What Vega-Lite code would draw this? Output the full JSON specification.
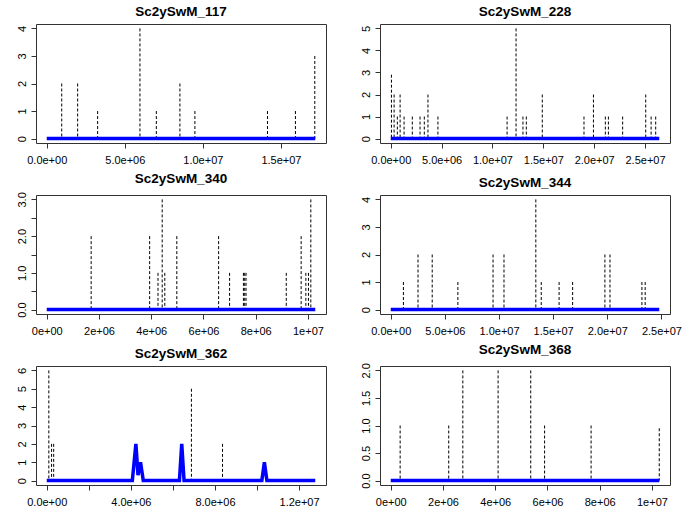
{
  "$schema": "https://vega.github.io/schema/vega-lite/v6.json",
  "padding": {"left": 15, "top": 4, "right": 5, "bottom": 5},
  "columns": 2,
  "spacing": {"row": 52, "column": 54},
  "bounds": "flush",
  "config": {
    "font": "Liberation Sans",
    "view": {"stroke": "#333333", "strokeWidth": 1},
    "axis": {"grid": false, "domain": false, "ticks": true, "tickSize": 5, "tickColor": "#333333", "tickWidth": 1, "labelFont": "Liberation Sans", "labelFontSize": 11, "labelColor": "black", "title": null, "labelOverlap": false, "labelFlush": false},
    "axisX": {"labelPadding": 6},
    "axisY": {"labelAngle": -90, "labelAlign": "center", "labelBaseline": "bottom", "labelPadding": 4},
    "title": {"fontSize": 13.5, "fontWeight": "bold", "font": "Liberation Sans", "offset": 6, "color": "black", "anchor": "middle"}
  },
  "datasets": {
    "k117": [{"x":960000,"y":2},{"x":1980000,"y":2},{"x":3260000,"y":1},{"x":5970000,"y":4},{"x":7020000,"y":1},{"x":8530000,"y":2},{"x":9490000,"y":1},{"x":14140000,"y":1},{"x":15930000,"y":1},{"x":17170000,"y":3}],
    "b117": [{"x":0,"y":0},{"x":17200000,"y":0}],
    "k228": [{"x":70000,"y":2.9},{"x":330000,"y":2},{"x":650000,"y":1},{"x":920000,"y":2},{"x":1310000,"y":1},{"x":2120000,"y":1},{"x":2880000,"y":1},{"x":3300000,"y":1},{"x":3660000,"y":2},{"x":4640000,"y":1},{"x":11440000,"y":1},{"x":12320000,"y":5},{"x":13000000,"y":1},{"x":13330000,"y":1},{"x":14900000,"y":2},{"x":19000000,"y":1},{"x":19930000,"y":2},{"x":21100000,"y":1},{"x":21400000,"y":1},{"x":22800000,"y":1},{"x":25070000,"y":2},{"x":25600000,"y":1},{"x":26050000,"y":1}],
    "b228": [{"x":0,"y":0},{"x":26400000,"y":0}],
    "k340": [{"x":1700000,"y":2},{"x":3940000,"y":2},{"x":4260000,"y":1},{"x":4420000,"y":3},{"x":4520000,"y":1},{"x":4980000,"y":2},{"x":6580000,"y":2},{"x":7000000,"y":1},{"x":7530000,"y":1},{"x":7580000,"y":1},{"x":7630000,"y":1},{"x":9170000,"y":1},{"x":9740000,"y":2},{"x":9920000,"y":1},{"x":10020000,"y":1},{"x":10110000,"y":3}],
    "b340": [{"x":0,"y":0},{"x":10280000,"y":0}],
    "k344": [{"x":1170000,"y":1},{"x":2520000,"y":2},{"x":3830000,"y":2},{"x":6200000,"y":1},{"x":9450000,"y":2},{"x":10460000,"y":2},{"x":13400000,"y":4},{"x":13900000,"y":1},{"x":15550000,"y":1},{"x":16800000,"y":1},{"x":19780000,"y":2},{"x":20250000,"y":2},{"x":23200000,"y":1},{"x":23500000,"y":1}],
    "b344": [{"x":0,"y":0},{"x":24800000,"y":0}],
    "k362": [{"x":100000,"y":6},{"x":230000,"y":2},{"x":330000,"y":2},{"x":6880000,"y":5},{"x":8360000,"y":2}],
    "b362": [{"x":0,"y":0},{"x":4070000,"y":0},{"x":4240000,"y":2},{"x":4340000,"y":0.3},{"x":4460000,"y":1},{"x":4590000,"y":0},{"x":6310000,"y":0},{"x":6420000,"y":2},{"x":6530000,"y":0},{"x":10230000,"y":0},{"x":10350000,"y":1},{"x":10470000,"y":0},{"x":12770000,"y":0}],
    "k368": [{"x":360000,"y":1},{"x":2220000,"y":1},{"x":2760000,"y":2},{"x":4110000,"y":2},{"x":5360000,"y":2},{"x":5890000,"y":1},{"x":7670000,"y":1},{"x":10280000,"y":0.95}],
    "b368": [{"x":0,"y":0},{"x":10280000,"y":0}]
  },
  "concat": [
    {
      "title": "Sc2ySwM_117", "width": 290, "height": 119,
      "encoding": {
        "x": {"field": "x", "type": "quantitative", "scale": {"domain": [-688000, 17888000], "nice": false, "zero": false}, "axis": {"values": [0, 5000000, 10000000, 15000000], "labelExpr": "replace(format(datum.value, '.1e'), 'e+', 'e+0')"}},
        "y": {"field": "y", "type": "quantitative", "scale": {"domain": [-0.16, 4.16], "nice": false, "zero": false}, "axis": {"values": [0, 1, 2, 3, 4]}}
      },
      "layer": [
        {"data": {"name": "k117"}, "mark": {"type": "rule", "color": "black", "strokeWidth": 1, "strokeDash": [3, 2]}, "encoding": {"y2": {"datum": 0}}},
        {"data": {"name": "b117"}, "mark": {"type": "line", "color": "#0000ff", "strokeWidth": 3.5}, "encoding": {}}
      ]
    },
    {
      "title": "Sc2ySwM_228", "width": 290, "height": 119,
      "encoding": {
        "x": {"field": "x", "type": "quantitative", "scale": {"domain": [-1056000, 27456000], "nice": false, "zero": false}, "axis": {"values": [0, 5000000, 10000000, 15000000, 20000000, 25000000], "labelExpr": "replace(format(datum.value, '.1e'), 'e+', 'e+0')"}},
        "y": {"field": "y", "type": "quantitative", "scale": {"domain": [-0.2, 5.2], "nice": false, "zero": false}, "axis": {"values": [0, 1, 2, 3, 4, 5]}}
      },
      "layer": [
        {"data": {"name": "k228"}, "mark": {"type": "rule", "color": "black", "strokeWidth": 1, "strokeDash": [3, 2]}, "encoding": {"y2": {"datum": 0}}},
        {"data": {"name": "b228"}, "mark": {"type": "line", "color": "#0000ff", "strokeWidth": 3.5}, "encoding": {}}
      ]
    },
    {
      "title": "Sc2ySwM_340", "width": 290, "height": 119,
      "encoding": {
        "x": {"field": "x", "type": "quantitative", "scale": {"domain": [-411200, 10691200], "nice": false, "zero": false}, "axis": {"values": [0, 2000000, 4000000, 6000000, 8000000, 10000000], "labelExpr": "replace(format(datum.value, '.0e'), 'e+', 'e+0')"}},
        "y": {"field": "y", "type": "quantitative", "scale": {"domain": [-0.12, 3.12], "nice": false, "zero": false}, "axis": {"values": [0, 0.5, 1, 1.5, 2, 2.5, 3], "labelExpr": "datum.value % 1 == 0 ? format(datum.value, '.1f') : ''"}}
      },
      "layer": [
        {"data": {"name": "k340"}, "mark": {"type": "rule", "color": "black", "strokeWidth": 1, "strokeDash": [3, 2]}, "encoding": {"y2": {"datum": 0}}},
        {"data": {"name": "b340"}, "mark": {"type": "line", "color": "#0000ff", "strokeWidth": 3.5}, "encoding": {}}
      ]
    },
    {
      "title": "Sc2ySwM_344", "width": 290, "height": 119,
      "encoding": {
        "x": {"field": "x", "type": "quantitative", "scale": {"domain": [-992000, 25792000], "nice": false, "zero": false}, "axis": {"values": [0, 5000000, 10000000, 15000000, 20000000, 25000000], "labelExpr": "replace(format(datum.value, '.1e'), 'e+', 'e+0')"}},
        "y": {"field": "y", "type": "quantitative", "scale": {"domain": [-0.16, 4.16], "nice": false, "zero": false}, "axis": {"values": [0, 1, 2, 3, 4]}}
      },
      "layer": [
        {"data": {"name": "k344"}, "mark": {"type": "rule", "color": "black", "strokeWidth": 1, "strokeDash": [3, 2]}, "encoding": {"y2": {"datum": 0}}},
        {"data": {"name": "b344"}, "mark": {"type": "line", "color": "#0000ff", "strokeWidth": 3.5}, "encoding": {}}
      ]
    },
    {
      "title": "Sc2ySwM_362", "width": 290, "height": 119,
      "encoding": {
        "x": {"field": "x", "type": "quantitative", "scale": {"domain": [-510800, 13280800], "nice": false, "zero": false}, "axis": {"values": [0, 2000000, 4000000, 6000000, 8000000, 10000000, 12000000], "labelExpr": "datum.value % 4000000 == 0 ? replace(format(datum.value, '.1e'), 'e+', 'e+0') : ''"}},
        "y": {"field": "y", "type": "quantitative", "scale": {"domain": [-0.24, 6.24], "nice": false, "zero": false}, "axis": {"values": [0, 1, 2, 3, 4, 5, 6]}}
      },
      "layer": [
        {"data": {"name": "k362"}, "mark": {"type": "rule", "color": "black", "strokeWidth": 1, "strokeDash": [3, 2]}, "encoding": {"y2": {"datum": 0}}},
        {"data": {"name": "b362"}, "mark": {"type": "line", "color": "#0000ff", "strokeWidth": 3.5}, "encoding": {}}
      ]
    },
    {
      "title": "Sc2ySwM_368", "width": 290, "height": 119,
      "encoding": {
        "x": {"field": "x", "type": "quantitative", "scale": {"domain": [-411200, 10691200], "nice": false, "zero": false}, "axis": {"values": [0, 2000000, 4000000, 6000000, 8000000, 10000000], "labelExpr": "replace(format(datum.value, '.0e'), 'e+', 'e+0')"}},
        "y": {"field": "y", "type": "quantitative", "scale": {"domain": [-0.08, 2.08], "nice": false, "zero": false}, "axis": {"values": [0, 0.5, 1, 1.5, 2], "labelExpr": "format(datum.value, '.1f')"}}
      },
      "layer": [
        {"data": {"name": "k368"}, "mark": {"type": "rule", "color": "black", "strokeWidth": 1, "strokeDash": [3, 2]}, "encoding": {"y2": {"datum": 0}}},
        {"data": {"name": "b368"}, "mark": {"type": "line", "color": "#0000ff", "strokeWidth": 3.5}, "encoding": {}}
      ]
    }
  ]
}
